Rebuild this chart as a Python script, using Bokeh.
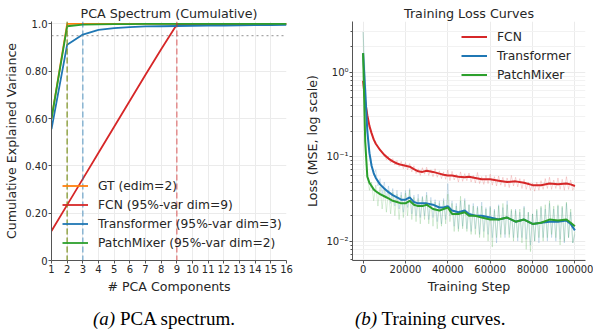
from bokeh.plotting import figure
from bokeh.models import Range1d, FixedTicker, NumeralTickFormatter, Span, Legend, LegendItem, Div
from bokeh.layouts import row, column
from bokeh.embed import file_html
from bokeh.resources import INLINE

# ---------------- data: PCA spectrum ----------------
components = list(range(1, 17))
gt_cum = [0.600, 1.000, 1.000, 1.000, 1.000, 1.000, 1.000, 1.000, 1.000, 1.000, 1.000, 1.000, 1.000, 1.000, 1.000, 1.000]
fcn_cum = [0.125, 0.235, 0.345, 0.455, 0.565, 0.675, 0.785, 0.893, 0.997, 0.998, 0.998, 0.999, 0.999, 0.999, 0.999, 1.000]
trans_cum = [0.555, 0.912, 0.955, 0.975, 0.982, 0.986, 0.989, 0.990, 0.991, 0.992, 0.993, 0.993, 0.994, 0.995, 0.995, 0.996]
pm_cum = [0.600, 0.990, 0.997, 0.998, 0.999, 0.999, 1.000, 1.000, 1.000, 1.000, 1.000, 1.000, 1.000, 1.000, 1.000, 1.000]
gt_edim = 2
fcn_dim = 9
trans_dim = 3
pm_dim = 2
var_threshold = 0.95
pca_y_ticks = [0, 0.2, 0.4, 0.6, 0.8, 1]
pca_y_tick_labels = ["0", "0.20", "0.40", "0.60", "0.80", "1.0"]

# ---------------- data: training loss ----------------
steps_smooth = [0, 1000, 2000, 3000, 4000, 5000, 6000, 8000, 10000, 12000, 14000, 16000, 18000, 20000,
                22000, 24000, 26000, 28000, 30000, 33000, 36000, 38000, 40000, 42000, 45000, 48000, 50000,
                53000, 56000, 60000, 64000, 68000, 72000, 76000, 80000, 84000, 88000, 92000, 96000, 98000, 100000]
fcn_smooth = [0.79, 0.45, 0.31, 0.23, 0.19, 0.16, 0.142, 0.12, 0.105, 0.095, 0.088, 0.083, 0.080, 0.078,
              0.076, 0.071, 0.067, 0.066, 0.068, 0.066, 0.063, 0.061, 0.060, 0.060, 0.058, 0.057, 0.058,
              0.056, 0.054, 0.054, 0.052, 0.050, 0.051, 0.049, 0.046, 0.046, 0.048, 0.047, 0.048, 0.047, 0.045]
trans_smooth = [1.68, 0.60, 0.20, 0.11, 0.078, 0.064, 0.056, 0.047, 0.042, 0.038, 0.035, 0.033, 0.031, 0.031,
                0.033, 0.029, 0.028, 0.028, 0.028, 0.027, 0.025, 0.025, 0.026, 0.023, 0.022, 0.023, 0.021,
                0.020, 0.020, 0.019, 0.018, 0.019, 0.017, 0.018, 0.016, 0.0165, 0.017, 0.017, 0.0175, 0.016, 0.0134]
pm_smooth = [1.68, 0.15, 0.058, 0.049, 0.045, 0.041, 0.039, 0.036, 0.034, 0.032, 0.030, 0.029, 0.028, 0.028,
             0.030, 0.027, 0.026, 0.026, 0.027, 0.024, 0.023, 0.024, 0.025, 0.021, 0.021, 0.022, 0.020,
             0.020, 0.019, 0.018, 0.018, 0.019, 0.017, 0.018, 0.016, 0.0165, 0.018, 0.0175, 0.018, 0.0165, 0.015]

steps_raw = list(range(0, 100001, 1000))
fcn_raw = [0.80, 0.47, 0.30, 0.24, 0.18, 0.165, 0.14, 0.13, 0.125, 0.11, 0.108, 0.092, 0.10, 0.085, 0.095,
           0.080, 0.090, 0.076, 0.088, 0.072, 0.085, 0.070, 0.083, 0.066, 0.078, 0.063, 0.072, 0.060, 0.074,
           0.062, 0.075, 0.060, 0.070, 0.058, 0.072, 0.057, 0.068, 0.055, 0.066, 0.054, 0.070, 0.052, 0.067,
           0.053, 0.062, 0.050, 0.066, 0.051, 0.063, 0.052, 0.064, 0.050, 0.060, 0.049, 0.065, 0.048, 0.058,
           0.047, 0.060, 0.048, 0.062, 0.046, 0.058, 0.045, 0.059, 0.046, 0.057, 0.044, 0.056, 0.043, 0.060,
           0.045, 0.057, 0.044, 0.055, 0.042, 0.054, 0.041, 0.050, 0.040, 0.049, 0.039, 0.050, 0.040, 0.052,
           0.041, 0.055, 0.042, 0.057, 0.041, 0.053, 0.042, 0.056, 0.041, 0.054, 0.040, 0.058, 0.041, 0.053,
           0.040, 0.046]
trans_raw = [3.0, 0.90, 0.25, 0.12, 0.085, 0.060, 0.070, 0.045, 0.055, 0.036, 0.050, 0.032, 0.045, 0.028,
             0.042, 0.026, 0.040, 0.024, 0.038, 0.022, 0.040, 0.025, 0.042, 0.021, 0.035, 0.020, 0.036, 0.019,
             0.034, 0.020, 0.038, 0.018, 0.033, 0.019, 0.031, 0.017, 0.030, 0.016, 0.032, 0.018, 0.048, 0.020,
             0.030, 0.015, 0.028, 0.014, 0.030, 0.015, 0.032, 0.014, 0.027, 0.013, 0.028, 0.014, 0.026, 0.012,
             0.029, 0.013, 0.025, 0.012, 0.026, 0.011, 0.024, 0.0095, 0.027, 0.012, 0.025, 0.011, 0.030, 0.012,
             0.023, 0.011, 0.024, 0.010, 0.022, 0.011, 0.026, 0.0105, 0.022, 0.009, 0.021, 0.010, 0.023, 0.0095,
             0.025, 0.011, 0.024, 0.010, 0.028, 0.011, 0.024, 0.010, 0.026, 0.0105, 0.025, 0.0095, 0.028, 0.011,
             0.022, 0.0095, 0.012]
pm_raw = [3.0, 0.20, 0.060, 0.040, 0.050, 0.030, 0.046, 0.026, 0.044, 0.024, 0.042, 0.022, 0.040, 0.021,
          0.038, 0.020, 0.036, 0.018, 0.035, 0.019, 0.037, 0.020, 0.040, 0.018, 0.033, 0.017, 0.032, 0.016,
          0.033, 0.018, 0.035, 0.016, 0.030, 0.015, 0.029, 0.014, 0.028, 0.015, 0.030, 0.016, 0.036, 0.017,
          0.028, 0.013, 0.026, 0.013, 0.034, 0.014, 0.030, 0.013, 0.027, 0.012, 0.026, 0.012, 0.025, 0.011,
          0.026, 0.011, 0.024, 0.010, 0.025, 0.0085, 0.023, 0.011, 0.026, 0.011, 0.028, 0.012, 0.027, 0.011,
          0.024, 0.010, 0.023, 0.011, 0.024, 0.0095, 0.025, 0.008, 0.022, 0.0075, 0.021, 0.010, 0.024, 0.011,
          0.026, 0.010, 0.027, 0.011, 0.030, 0.012, 0.026, 0.011, 0.027, 0.009, 0.026, 0.010, 0.029, 0.011,
          0.024, 0.0095, 0.013]
loss_x_ticks = [0, 20000, 40000, 60000, 80000, 100000]
loss_y_ticks = [0.01, 0.1, 1]
loss_y_tick_labels = ["10\u207b\u00b2", "10\u207b\u00b9", "10\u2070"]
loss_minor = [0.006, 0.007, 0.008, 0.009, 0.02, 0.03, 0.04, 0.05, 0.06, 0.07, 0.08, 0.09,
              0.2, 0.3, 0.4, 0.5, 0.6, 0.7, 0.8, 0.9, 2, 3]

# ---------------- style ----------------
FONT = "DejaVu Sans"
ORANGE, RED, BLUE, GREEN = "#ff7f0e", "#d62728", "#1f77b4", "#2ca02c"
GRID = "#ebebeb"
SPINE = "#555555"
TXT = "#262626"


def style(p):
    p.outline_line_color = None
    p.background_fill_color = "white"
    p.border_fill_color = "white"
    p.title.text_font = FONT
    p.title.text_font_size = "12.7px"
    p.title.text_font_style = "normal"
    p.title.text_color = TXT
    p.title.align = "center"
    p.title.standoff = 2
    for ax in (p.xaxis[0], p.yaxis[0]):
        ax.axis_line_color = SPINE
        ax.axis_line_width = 1
        ax.major_tick_line_color = SPINE
        ax.major_tick_out = 3
        ax.major_tick_in = 0
        ax.minor_tick_line_color = None
        ax.major_label_text_font = FONT
        ax.major_label_text_font_size = "10px"
        ax.major_label_text_color = TXT
        ax.axis_label_text_font = FONT
        ax.axis_label_text_font_size = "12.6px"
        ax.axis_label_text_font_style = "normal"
        ax.axis_label_text_color = TXT
        ax.major_label_standoff = 1
        ax.axis_label_standoff = 3
    p.xgrid.grid_line_color = GRID
    p.ygrid.grid_line_color = GRID


def style_legend(lg):
    lg.background_fill_alpha = 0
    lg.border_line_color = None
    lg.padding = 0
    lg.spacing = 0
    lg.margin = 0
    lg.glyph_width = 26
    lg.glyph_height = 19
    lg.label_height = 19
    lg.label_standoff = 10
    lg.label_text_font = FONT
    lg.label_text_font_size = "12.3px"
    lg.label_text_color = TXT


# ---------------- left: PCA spectrum ----------------
p1 = figure(width=300, height=300, output_backend="svg", toolbar_location=None,
            x_range=Range1d(1, 16), y_range=Range1d(0, 1.01),
            min_border_left=51, min_border_right=14, min_border_top=21, min_border_bottom=40,
            title="PCA Spectrum (Cumulative)")
style(p1)
p1.xaxis.axis_label = "# PCA Components"
p1.yaxis.axis_label = "Cumulative Explained Variance"
p1.xaxis.ticker = FixedTicker(ticks=components)
p1.yaxis.ticker = FixedTicker(ticks=pca_y_ticks)
p1.yaxis.major_label_overrides = dict(zip(pca_y_ticks, pca_y_tick_labels))

p1.add_layout(Span(location=var_threshold, dimension="width", line_color="gray", line_alpha=0.7,
                   line_width=1.2, line_dash="2 3"))
for d, c in ((gt_edim, ORANGE), (fcn_dim, RED), (trans_dim, BLUE), (pm_dim, GREEN)):
    p1.add_layout(Span(location=d, dimension="height", line_color=c, line_alpha=0.5,
                       line_width=1.5, line_dash="6 3"))

r_gt = p1.line(components, gt_cum, line_color=ORANGE, line_width=1.8)
r_fcn = p1.line(components, fcn_cum, line_color=RED, line_width=1.8)
r_tr = p1.line(components, trans_cum, line_color=BLUE, line_width=1.8)
r_pm = p1.line(components, pm_cum, line_color=GREEN, line_width=1.8)

lg1 = Legend(items=[
    LegendItem(label=f"GT (edim={gt_edim})", renderers=[r_gt]),
    LegendItem(label=f"FCN (95%-var dim={fcn_dim})", renderers=[r_fcn]),
    LegendItem(label=f"Transformer (95%-var dim={trans_dim})", renderers=[r_tr]),
    LegendItem(label=f"PatchMixer (95%-var dim={pm_dim})", renderers=[r_pm]),
], location=(11, 8))
style_legend(lg1)
p1.add_layout(lg1)

# ---------------- right: training loss ----------------
p2 = figure(width=293, height=300, output_backend="svg", toolbar_location=None,
            x_range=Range1d(-5000, 105000), y_range=Range1d(0.0059, 3.98), y_axis_type="log",
            min_border_left=52, min_border_right=8, min_border_top=21, min_border_bottom=40,
            title="Training Loss Curves")
style(p2)
p2.xaxis.axis_label = "Training Step"
p2.yaxis.axis_label = "Loss (MSE, log scale)"
p2.xaxis.ticker = FixedTicker(ticks=loss_x_ticks)
p2.xaxis.formatter = NumeralTickFormatter(format="0")
p2.yaxis.ticker = FixedTicker(ticks=loss_y_ticks, minor_ticks=loss_minor)
p2.yaxis.major_label_overrides = dict(zip(loss_y_ticks, loss_y_tick_labels))
p2.yaxis.minor_tick_line_color = SPINE
p2.yaxis.minor_tick_out = 2
p2.yaxis.minor_tick_in = 0
p2.ygrid.minor_grid_line_color = "#f2f2f2"

p2.line(steps_raw, fcn_raw, line_color=RED, line_alpha=0.18, line_width=1)
p2.line(steps_raw, trans_raw, line_color=BLUE, line_alpha=0.18, line_width=1)
p2.line(steps_raw, pm_raw, line_color=GREEN, line_alpha=0.18, line_width=1)
s_fcn = p2.line(steps_smooth, fcn_smooth, line_color=RED, line_width=2)
s_tr = p2.line(steps_smooth, trans_smooth, line_color=BLUE, line_width=2)
s_pm = p2.line(steps_smooth, pm_smooth, line_color=GREEN, line_width=2)

lg2 = Legend(items=[
    LegendItem(label="FCN", renderers=[s_fcn]),
    LegendItem(label="Transformer", renderers=[s_tr]),
    LegendItem(label="PatchMixer", renderers=[s_pm]),
], location=(109, 176))
style_legend(lg2)
p2.add_layout(lg2)

# ---------------- captions ----------------
cap_style = {"font-family": "Liberation Serif", "font-size": "19px",
             "color": "black", "white-space": "nowrap", "overflow": "hidden"}
d1 = Div(text='<div style="padding-left:93px;padding-top:8px;line-height:22px"><i>(a)</i> PCA spectrum.</div>',
         width=300, height=34, margin=0, styles=cap_style)
d2 = Div(text='<div style="padding-left:55px;padding-top:8px;line-height:22px"><i>(b)</i> Training curves.</div>',
         width=293, height=34, margin=0, styles=cap_style)

layout = column(row(p1, p2, spacing=0), row(d1, d2, spacing=0), spacing=0)

with open("out.html", "w") as f:
    f.write(file_html(layout, INLINE))
